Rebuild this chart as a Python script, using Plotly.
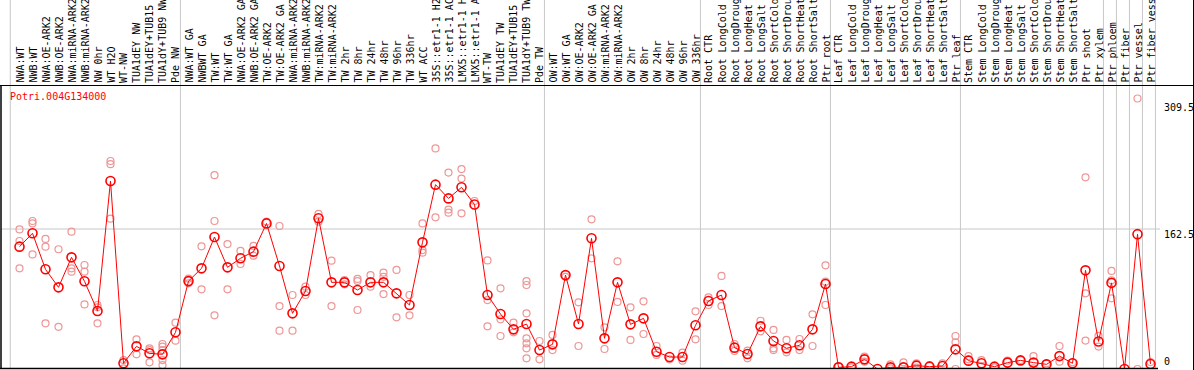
import plotly.graph_objects as go

W, H = 1194, 370

categories = [
    "NWA:WT", "NWB:WT", "NWA:OE-ARK2", "NWB:OE-ARK2", "NWA:miRNA-ARK2", "NWB:miRNA-ARK2",
    "NW 0hr", "WT H2O", "WT-NW", "TUA1dEY NW", "TUA1dEY+TUB15 NW", "TUA1dY+TUB9 NW", "Pde NW",
    "NWA:WT GA", "NWBWT GA", "TW:WT", "TW:WT GA", "NWA:OE-ARK2 GA", "NWB:OE-ARK2 GA",
    "TW:OE-ARK2", "TW:OE-ARK2 GA", "NWA:miRNA-ARK2", "NWB:miRNA-ARK2", "TW:miRNA-ARK2",
    "TW:miRNA-ARK2", "TW 2hr", "TW 8hr", "TW 24hr", "TW 48hr", "TW 96hr", "TW 336hr",
    "WT ACC", "35S::etr1-1 H2O", "35S::etr1-1 ACC", "LMX5::etr1-1 H2O", "LMX5::etr1-1 ACC",
    "WT-TW", "TUA1dEY TW", "TUA1dEY+TUB15 TW", "TUA1dY+TUB9 TW", "Pde TW",
    "OW:WT", "OW:WT GA", "OW:OE-ARK2", "OW:OE-ARK2 GA", "OW:miRNA-ARK2", "OW:miRNA-ARK2",
    "OW 2hr", "OW 8hr", "OW 24hr", "OW 48hr", "OW 96hr", "OW 336hr",
    "Root CTR", "Root LongCold", "Root LongDrought", "Root LongHeat", "Root LongSalt",
    "Root ShortCold", "Root ShortDrought", "Root ShortHeat", "Root ShortSalt", "Ptr root",
    "Leaf CTR", "Leaf LongCold", "Leaf LongDrought", "Leaf LongHeat", "Leaf LongSalt",
    "Leaf ShortCold", "Leaf ShortDrought", "Leaf ShortHeat", "Leaf ShortSalt", "Ptr leaf",
    "Stem CTR", "Stem LongCold", "Stem LongDrought", "Stem LongHeat", "Stem LongSalt",
    "Stem ShortCold", "Stem ShortDrought", "Stem ShortHeat", "Stem ShortSalt", "Ptr shoot",
    "Ptr xylem", "Ptr phloem", "Ptr fiber", "Ptr vessel", "Ptr fiber vessel",
]

medians = [
    142, 157.5, 115.7, 94.8, 129.6, 101.8, 67.3, 218.2, 6.6, 26.3, 18.2, 17, 42.6,
    102, 116.8, 153.2, 118, 128.5, 136.2, 169, 119.6, 64.6, 90.5, 174.9, 100.6, 100.6,
    91.7, 100.6, 100.6, 87.8, 74.3, 147, 214, 198, 210.9, 191, 85.9, 63.8, 46, 52.2, 22,
    28.6, 109, 52.2, 151.7, 35.6, 100.6, 51.8, 58.8, 20.1, 13.9, 13.9, 50.7,
    79, 85.9, 24.8, 17.4, 49.5, 32.5, 24, 27.5, 46, 98.7,
    1.9, 2.7, 11.2, 0, 1.9, 1.9, 3.9, 2.7, 3.5, 22.8,
    9.7, 6.6, 2.7, 7.4, 10, 7.4, 5.4, 15, 6.6, 114.5,
    32, 100, 0, 156.5, 5.8,
]

replicates = [
    [162, 148.6, 116.8], [171.8, 169, 133], [151, 142, 53], [139, 49],
    [159.4, 116.8, 113], [120.7, 113, 75], [74.3, 71.6, 53], [241.4, 237.8, 174.5],
    [10.4, 0.8], [34.4, 17], [24, 22, 7.7], [29, 26, 22, 10.4, 4.6], [53.8, 32.9],
    [105, 99.4], [142.4, 92.5], [225, 171.8, 62.3], [145, 92.5], [137, 121.9],
    [143, 131.5], [171], [166, 73, 44.5], [85.9, 44.5], [95.6, 85.9], [180, 171],
    [125.7, 73], [103.3, 98.3], [104.5, 102, 68.5], [109, 95.6], [111.8, 107, 87],
    [115, 60], [85.9, 62.3], [169, 138, 135], [256, 176], [228, 185, 181.5],
    [232, 221, 180.7], [195], [126, 80, 49.5], [93.6, 57.7, 38.3], [53.8, 42.6],
    [102, 97.5, 64.6, 35.6, 29.8, 24, 12.4], [32.5, 11.2],
    [39.5, 22], [107], [77.4, 26.7], [173.7, 128.5], [48.4, 23.2], [125, 77.8],
    [71.6, 33.7], [78.5, 40.6], [26.7, 16.3], [11.2], [19, 9.7], [67, 34.4],
    [83.2, 74.3], [108, 73], [29, 20.9], [21.3, 12.4], [56, 43.7], [45.3, 24, 22],
    [33.7, 19.3], [34.8, 22], [63.5, 26.7], [120.3, 101.4, 74.3],
    [3.5], [1.9], [14.3, 8.5], [], [5.4, 0.8], [7.7], [6.6, 1.5], [4.6], [6.6],
    [38.3, 31, 0],
    [15, 11.2], [10.4, 3.5], [1.9], [9.7], [10.4], [15, 0.8], [6.6], [26.7, 8.5],
    [7.7], [222.5, 87.8, 33],
    [38.5, 26], [113.8, 103, 82], [], [314, 0], [8],
]

# last category index of each vertical-gridline group
group_ends = [12, 40, 52, 62, 72, 83, 84, 85, 86, 87]

y_ticks = [309.5, 162.5, 0]
gene_title = "Potri.004G134000"

MONO = "DejaVu Sans Mono"

# geometry (pixels)
plot_left, plot_right = 1, 1158
plot_top, plot_bottom = 85, 369
step = 13
x0_px = 19.5
x_range = [(plot_left - x0_px) / step, (plot_right - x0_px) / step]
y_top_val = 162.5 * (plot_bottom - plot_top) / (plot_bottom - 229)

rep_x, rep_y = [], []
for i, reps in enumerate(replicates):
    for v in reps:
        rep_x.append(i)
        rep_y.append(v)

idx = list(range(len(categories)))

fig = go.Figure()
fig.add_trace(go.Scatter(
    x=rep_x, y=rep_y, mode="markers",
    marker=dict(symbol="circle-open", size=7, color="rgb(238,150,150)",
                line=dict(width=1.2, color="rgb(238,150,150)")),
    hoverinfo="skip", showlegend=False,
))
fig.add_trace(go.Scatter(
    x=idx, y=medians, mode="lines+markers",
    line=dict(color="#ff0000", width=1),
    marker=dict(symbol="circle-open", size=9, color="#ff0000",
                line=dict(width=1.6, color="#ff0000")),
    showlegend=False,
))

def px(xp):
    return xp / W

def py(yp):
    return 1 - yp / H

shapes = []
# vertical group gridlines
for e in [-1.09] + group_ends:
    xv = e + 0.38
    shapes.append(dict(type="line", xref="x", yref="paper", x0=xv, x1=xv,
                       y0=py(plot_bottom), y1=1, line=dict(color="#c8c8c8", width=1),
                       layer="below"))
# horizontal gridline slightly past plot area
shapes.append(dict(type="line", xref="paper", yref="y", x0=px(plot_left), x1=px(1160),
                   y0=162.5, y1=162.5, line=dict(color="#c8c8c8", width=1), layer="below"))
# frame
shapes += [
    dict(type="line", xref="paper", yref="paper", x0=0, x1=1, y0=py(85.5), y1=py(85.5),
         line=dict(color="black", width=1)),
    dict(type="line", xref="paper", yref="paper", x0=px(0), x1=px(plot_right), y0=py(368.5), y1=py(368.5),
         line=dict(color="black", width=1.5)),
    dict(type="line", xref="paper", yref="paper", x0=px(1), x1=px(1), y0=py(369), y1=py(85),
         line=dict(color="black", width=1.5)),
    dict(type="line", xref="paper", yref="paper", x0=px(1193.5), x1=px(1193.5), y0=0, y1=1,
         line=dict(color="black", width=1)),
]

annotations = [dict(
    text=gene_title, xref="paper", yref="paper", x=px(8), y=py(96.5),
    xanchor="left", yanchor="middle", showarrow=False,
    font=dict(family=MONO, size=10, color="#ff0000"),
)]
for v in y_ticks:
    annotations.append(dict(
        text="0" if v == 0 else str(v),
        xref="paper", yref="y", x=px(1162), y=v,
        xanchor="left", yanchor="bottom" if v == 0 else "top",
        yshift=0 if v == 0 else 2, showarrow=False,
        font=dict(family=MONO, size=10, color="black"),
    ))
# category labels, rotated, sitting on the top frame line
for i, name in enumerate(categories):
    annotations.append(dict(
        text=name, xref="x", yref="paper", x=i, y=py(84),
        xanchor="center", yanchor="bottom", textangle=-90, showarrow=False,
        borderpad=0, font=dict(family=MONO, size=10, color="black"),
    ))

fig.update_layout(
    width=W, height=H,
    margin=dict(l=0, r=0, t=0, b=0, pad=0),
    paper_bgcolor="white", plot_bgcolor="white",
    shapes=shapes, annotations=annotations,
    xaxis=dict(
        domain=[px(plot_left), px(plot_right)], range=x_range,
        showticklabels=False, ticks="", showgrid=False, zeroline=False, showline=False,
        automargin=False, fixedrange=True,
    ),
    yaxis=dict(
        domain=[py(plot_bottom), py(plot_top)], range=[0, y_top_val],
        showticklabels=False, ticks="",
        showgrid=False, zeroline=False, showline=False, automargin=False, fixedrange=True,
    ),
    font=dict(family=MONO, size=10),
)

fig.write_html(
    "out.html",
    config={"displayModeBar": False},
    post_script="document.body.style.margin='0';document.body.style.overflow='hidden';",
)
